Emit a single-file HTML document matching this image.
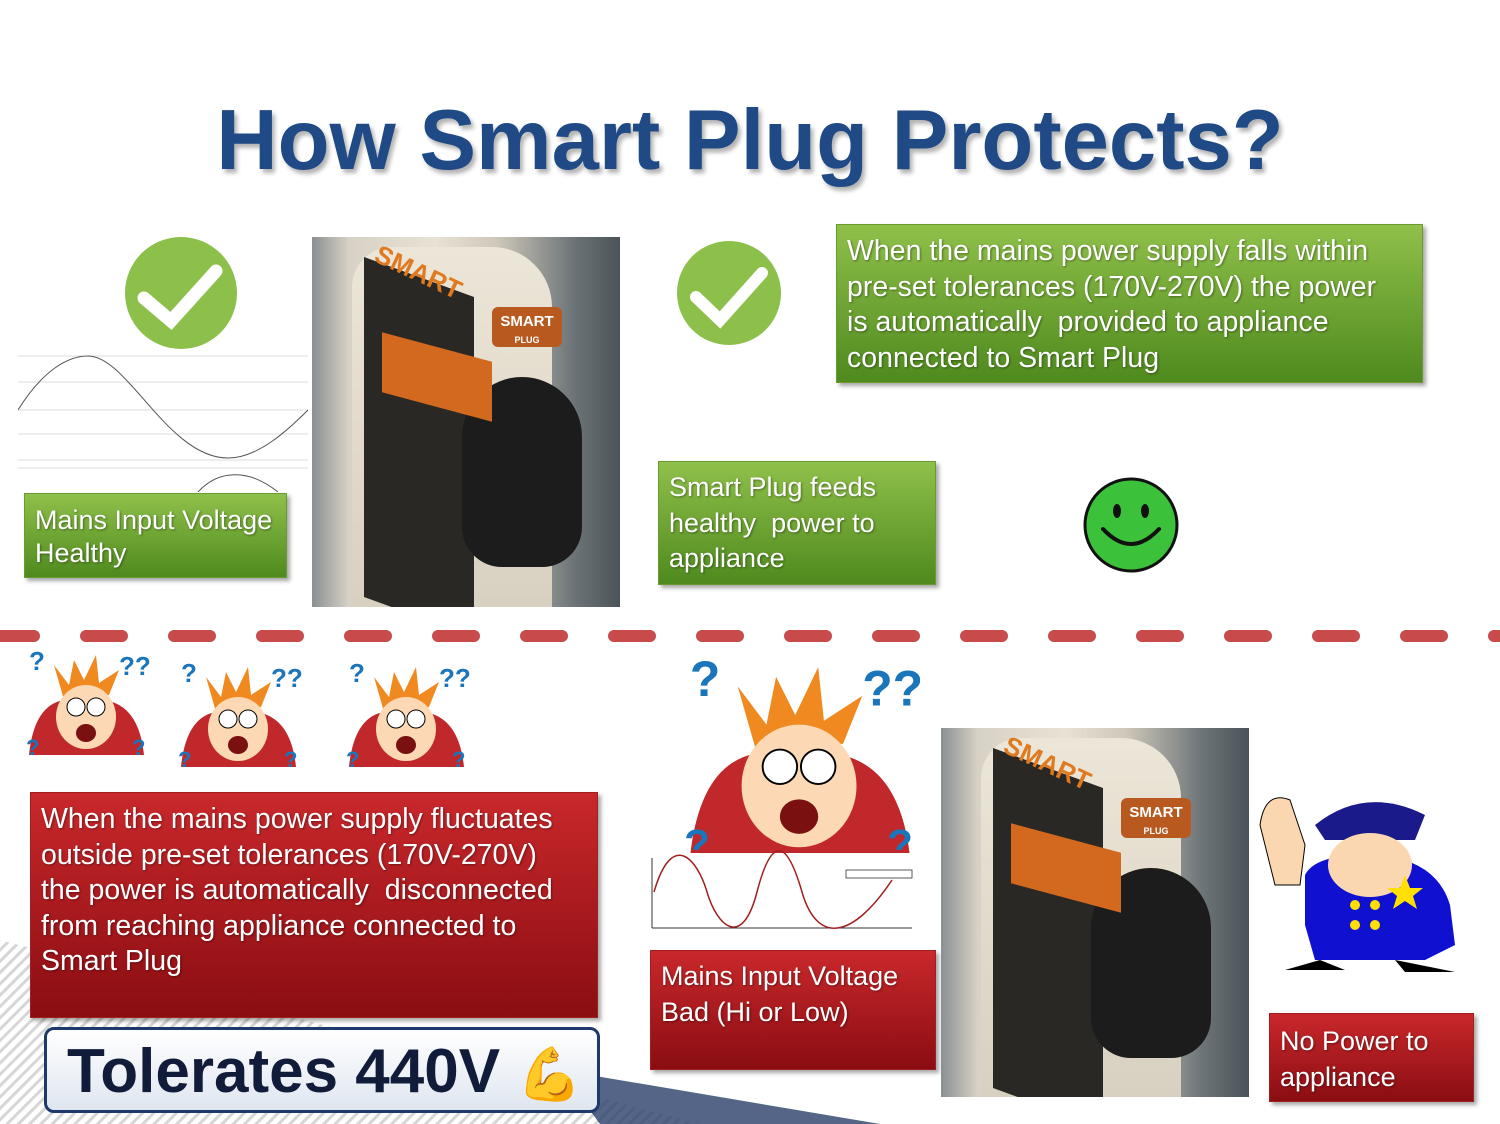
<!DOCTYPE html>
<html><head><meta charset="utf-8"><style>
*{margin:0;padding:0;box-sizing:border-box}
body{width:1500px;height:1124px;position:relative;overflow:hidden;background:#fff;font-family:"Liberation Sans",sans-serif}
.abs{position:absolute}
.g{background:linear-gradient(#8fc04a,#4f8a1e);color:#fff;box-shadow:3px 3px 4px rgba(0,0,0,.35);border:1px solid #6a9a30}
.r{background:linear-gradient(#c9282b,#8a0d12);color:#fff;box-shadow:3px 3px 4px rgba(0,0,0,.35);border:1px solid #a02020}
.t{font-size:27px;line-height:35.5px;padding:8px 10px;text-shadow:1px 1px 2px rgba(0,0,0,.4);white-space:nowrap}
.photo{background:linear-gradient(90deg,#8a8f92 0%,#d8d2c6 12%,#e8e2d5 40%,#cfc8ba 60%,#6c7478 85%,#4a5358 100%);overflow:hidden}
</style></head><body>
<svg class="abs" style="left:0;top:880px" width="900" height="244">
<defs><pattern id="st" width="8" height="8" patternUnits="userSpaceOnUse" patternTransform="rotate(45)"><rect width="3" height="8" fill="#d6d6d6"/></pattern></defs>
<polygon points="0,60 700,244 0,244" fill="url(#st)"/>
<polygon points="560,190 880,244 600,244" fill="#2a3e6a" opacity=".8"/>
</svg>
<div class="abs" style="left:0;top:92px;width:1500px;text-align:center;font-size:85px;font-weight:bold;color:#1f4a85;text-shadow:3px 4px 4px rgba(0,0,0,.3)">How Smart Plug Protects?</div>

<svg class="abs" style="left:124px;top:236px" width="114" height="114"><circle cx="57" cy="57" r="56" fill="#8cc04a"/><path d="M20 62 L47 85 L92 35" stroke="#fff" stroke-width="13" fill="none" stroke-linecap="round"/></svg>
<svg class="abs" style="left:676px;top:240px" width="106" height="106"><circle cx="53" cy="53" r="52" fill="#8cc04a"/><path d="M20 57 L44 80 L86 33" stroke="#fff" stroke-width="12" fill="none" stroke-linecap="round"/></svg>

<svg class="abs" style="left:18px;top:350px" width="290" height="142">
<g stroke="#ddd" stroke-width="1"><line x1="0" y1="6" x2="290" y2="6"/><line x1="0" y1="32" x2="290" y2="32"/><line x1="0" y1="60" x2="290" y2="60"/><line x1="0" y1="84" x2="290" y2="84"/><line x1="0" y1="110" x2="290" y2="110"/><line x1="0" y1="118" x2="290" y2="118"/></g>
<path d="M0 60 C25 20 50 6 70 6 C110 6 150 108 210 108 C240 108 270 80 290 60" stroke="#555" fill="none"/>
<path d="M180 142 C200 120 230 118 260 142" stroke="#555" fill="none"/>
</svg>
<div class="abs g t" style="left:24px;top:493px;width:263px;height:85px;padding-top:10px;line-height:33px">Mains Input Voltage<br>Healthy</div>

<div class="abs photo" style="left:312px;top:237px;width:308px;height:370px">
<div class="abs" style="left:40px;top:10px;width:200px;height:360px;background:linear-gradient(#ece6d8,#d8d0c0);border-radius:40px 60px 0 0"></div>
<div class="abs" style="left:52px;top:20px;width:110px;height:340px;background:#2a2824;transform:skewY(20deg);transform-origin:left top"></div>
<div class="abs" style="left:60px;top:20px;font-size:26px;font-weight:bold;color:#e07a20;transform:rotate(25deg)">SMART</div>
<div class="abs" style="left:180px;top:70px;width:70px;height:40px;background:#b85a20;color:#fff;font-weight:bold;font-size:15px;text-align:center;padding-top:6px;border-radius:6px">SMART<br><span style="font-size:9px">PLUG</span></div>
<div class="abs" style="left:150px;top:140px;width:120px;height:190px;background:#1c1c1c;border-radius:60px 60px 40px 40px"></div>
<div class="abs" style="left:70px;top:110px;width:110px;height:60px;background:#d2691e;transform:skewY(15deg)"></div>
</div>

<div class="abs g t" style="left:658px;top:461px;width:278px;height:124px">Smart Plug feeds<br>healthy&nbsp; power to<br>appliance</div>
<div class="abs g t" style="left:836px;top:224px;width:587px;height:159px;font-size:28.5px;padding-top:9px">When the mains power supply falls within<br>pre-set tolerances (170V-270V) the power<br>is automatically&nbsp; provided to appliance<br>connected to Smart Plug</div>

<svg class="abs" style="left:1081px;top:475px" width="100" height="100"><circle cx="50" cy="50" r="46" fill="#3cc23a" stroke="#111" stroke-width="3"/><ellipse cx="36" cy="36" rx="4" ry="7" fill="#111"/><ellipse cx="64" cy="36" rx="4" ry="7" fill="#111"/><path d="M22 54 Q50 84 78 54" stroke="#111" stroke-width="4" fill="none" stroke-linecap="round"/></svg>

<svg class="abs" style="left:0;top:628px" width="1500" height="16"><line x1="-2" y1="8" x2="1500" y2="8" stroke="#c94a4a" stroke-width="12" stroke-linecap="round" stroke-dasharray="36 52"/></svg>

<svg class="abs" style="left:24px;top:645px" width="450" height="135">
<g id="f">
<path d="M5 110 Q10 60 40 55 L80 55 Q115 60 120 110 Z" fill="#c0282b"/>
<path d="M30 20 L45 40 L50 15 L60 35 L72 10 L75 38 L95 25 L85 50 L40 55 Z" fill="#f08a20"/>
<ellipse cx="62" cy="72" rx="30" ry="32" fill="#fcd9b4"/>
<circle cx="52" cy="62" r="9" fill="#fff" stroke="#000"/><circle cx="72" cy="62" r="9" fill="#fff" stroke="#000"/>
<ellipse cx="62" cy="88" rx="10" ry="9" fill="#7a1010"/>
<text x="5" y="25" fill="#1b75bb" font-size="26" font-weight="bold" font-family="Liberation Sans">?</text>
<text x="95" y="30" fill="#1b75bb" font-size="26" font-weight="bold" font-family="Liberation Sans">??</text>
<text x="2" y="110" fill="#1b75bb" font-size="22" font-weight="bold" font-family="Liberation Sans">?</text>
<text x="108" y="110" fill="#1b75bb" font-size="22" font-weight="bold" font-family="Liberation Sans">?</text>
</g>
<use href="#f" x="152" y="12"/><use href="#f" x="320" y="12"/>
</svg>
<svg class="abs" style="left:680px;top:648px" width="240" height="205" viewBox="0 0 125 107">
<use href="#f"/>
</svg>

<div class="abs r t" style="left:30px;top:792px;width:568px;height:226px;font-size:28.5px;padding-top:9px">When the mains power supply fluctuates<br>outside pre-set tolerances (170V-270V)<br>the power is automatically&nbsp; disconnected<br>from reaching appliance connected to<br>Smart Plug</div>

<div class="abs" style="left:44px;top:1027px;width:556px;height:86px;border:3px solid #1f3a6a;border-radius:10px;background:linear-gradient(#fff,#dfe6f0);font-size:62px;font-weight:bold;color:#111c3a;padding:6px 0 0 20px;line-height:72px;white-space:nowrap">Tolerates 440V <span style="font-size:52px">💪</span></div>

<svg class="abs" style="left:622px;top:850px" width="295" height="88">
<line x1="30" y1="8" x2="30" y2="78" stroke="#333"/><line x1="30" y1="78" x2="290" y2="78" stroke="#333"/>
<path d="M32 42 C50 -20 75 8 85 42 S120 100 135 42 S165 -10 180 42 S230 90 270 30" stroke="#a02020" fill="none" stroke-width="1.5"/>
<rect x="224" y="20" width="66" height="8" fill="#fff" stroke="#333" stroke-width=".8"/>
</svg>
<div class="abs r t" style="left:650px;top:950px;width:286px;height:120px">Mains Input Voltage<br>Bad (Hi or Low)</div>

<div class="abs photo" style="left:941px;top:728px;width:308px;height:369px">
<div class="abs" style="left:40px;top:10px;width:200px;height:360px;background:linear-gradient(#ece6d8,#d8d0c0);border-radius:40px 60px 0 0"></div>
<div class="abs" style="left:52px;top:20px;width:110px;height:340px;background:#2a2824;transform:skewY(20deg);transform-origin:left top"></div>
<div class="abs" style="left:60px;top:20px;font-size:26px;font-weight:bold;color:#e07a20;transform:rotate(25deg)">SMART</div>
<div class="abs" style="left:180px;top:70px;width:70px;height:40px;background:#b85a20;color:#fff;font-weight:bold;font-size:15px;text-align:center;padding-top:6px;border-radius:6px">SMART<br><span style="font-size:9px">PLUG</span></div>
<div class="abs" style="left:150px;top:140px;width:120px;height:190px;background:#1c1c1c;border-radius:60px 60px 40px 40px"></div>
<div class="abs" style="left:70px;top:110px;width:110px;height:60px;background:#d2691e;transform:skewY(15deg)"></div>
</div>

<svg class="abs" style="left:1255px;top:785px" width="210" height="190">
<path d="M50 90 Q60 70 110 70 Q180 70 195 120 L200 160 L170 175 L60 175 L50 140 Z" fill="#1010d0"/>
<path d="M60 40 Q110 0 170 30 L160 55 L70 55 Z" fill="#1a1a8a"/>
<ellipse cx="115" cy="80" rx="42" ry="32" fill="#fad7b0"/>
<path d="M5 40 Q10 5 35 15 L50 60 L45 100 L20 100 Z" fill="#fad7b0" stroke="#000"/>
<polygon points="150,90 155,103 168,103 158,111 162,124 150,116 138,124 142,111 132,103 145,103" fill="#ffe000"/>
<g fill="#ffe000"><circle cx="100" cy="120" r="5"/><circle cx="100" cy="140" r="5"/><circle cx="120" cy="120" r="5"/><circle cx="120" cy="140" r="5"/></g>
<path d="M65 175 L30 185 L90 185 Z M140 175 L200 187 L150 187 Z" fill="#000"/>
</svg>
<div class="abs r t" style="left:1269px;top:1013px;width:205px;height:89px;padding-top:10px">No Power to<br>appliance</div>
</body></html>
